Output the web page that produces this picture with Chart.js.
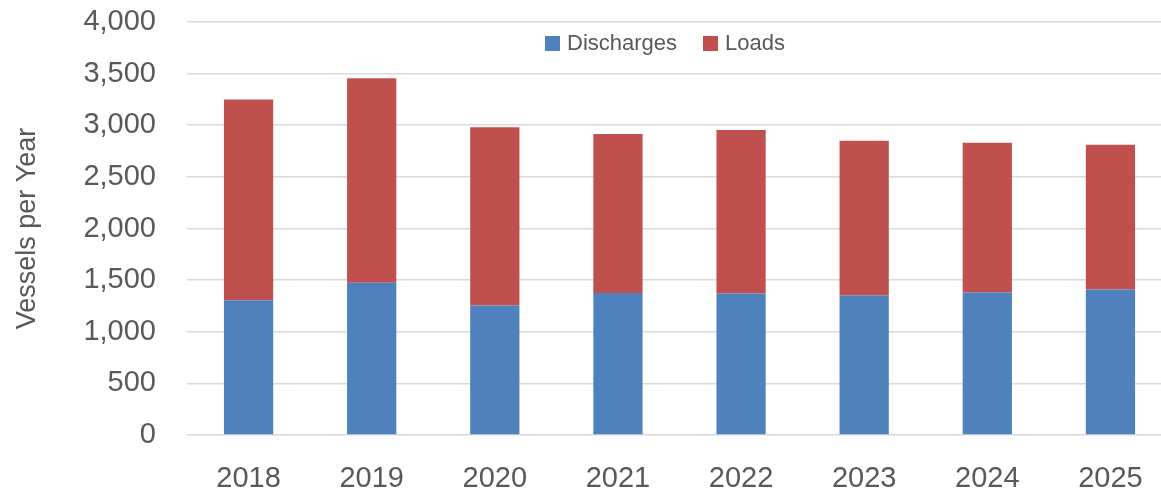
<!DOCTYPE html>
<html>
<head>
<meta charset="utf-8">
<script src="https://cdn.jsdelivr.net/npm/chart.js@4"></script>
<style>
  html, body { margin: 0; padding: 0; background: #fff; overflow: hidden; }
  #wrap { position: relative; width: 1172px; height: 489px; }
  #legend { position: absolute; top: 30px; left: 545px; display: flex; align-items: center;
            font-family: "Liberation Sans", Arial, sans-serif; font-size: 22px; color: #595959; white-space: nowrap; }
  #legend .item { display: flex; align-items: center; margin-right: 26px; }
  #legend .box { width: 15px; height: 15px; margin-right: 7px; }
</style>
</head>
<body>
<div id="wrap">
  <canvas id="c" width="1172" height="489"></canvas>
  <div id="legend"></div>
</div>
<script>
const categories = ["2018", "2019", "2020", "2021", "2022", "2023", "2024", "2025"];
const discharges = [1305, 1475, 1255, 1375, 1370, 1350, 1380, 1410];
const loads = [1945, 1980, 1725, 1540, 1585, 1500, 1450, 1400];
const seriesNames = ["Discharges", "Loads"];
const yTicks = [0, 500, 1000, 1500, 2000, 2500, 3000, 3500, 4000];
const yTitle = "Vessels per Year";

const FONT = '"Liberation Sans", Arial, sans-serif';
const TXT = '#595959';

const chart = new Chart(document.getElementById('c'), {
  type: 'bar',
  data: {
    labels: categories,
    datasets: [
      { label: seriesNames[0], data: discharges, backgroundColor: '#4F81BD', borderWidth: 0 },
      { label: seriesNames[1], data: loads, backgroundColor: '#C0504D', borderWidth: 0 }
    ]
  },
  options: {
    responsive: false,
    animation: false,
    layout: { padding: { top: 22, right: 0, left: 0, bottom: 0 } },
    plugins: { legend: { display: false }, tooltip: { enabled: false } },
    datasets: { bar: { categoryPercentage: 1.0, barPercentage: 0.4 } },
    scales: {
      x: {
        stacked: true,
        grid: { display: false },
        border: { display: false },
        ticks: { color: TXT, font: { family: FONT, size: 29 }, padding: 19, maxRotation: 0 },
        afterFit: s => { s.height = 54; s.paddingLeft = 0; s.paddingRight = 0; }
      },
      y: {
        stacked: true,
        min: 0, max: 4000,
        afterBuildTicks: s => { s.ticks = yTicks.map(v => ({ value: v })); },
        grid: { color: '#d9d9d9', lineWidth: 1.6, drawTicks: false },
        border: { display: false },
        ticks: {
          color: TXT, font: { family: FONT, size: 29 }, padding: 31,
          callback: v => Number(v).toLocaleString('en-US')
        },
        title: { display: true, text: yTitle, color: TXT, font: { family: FONT, size: 27 }, padding: { top: 11, bottom: 0 } },
        afterFit: s => { s.width = 187; s.paddingTop = 0; s.paddingBottom = 0; }
      }
    }
  }
});

const legendEl = document.getElementById('legend');
chart.data.datasets.forEach(ds => {
  const item = document.createElement('div');
  item.className = 'item';
  const box = document.createElement('span');
  box.className = 'box';
  box.style.background = ds.backgroundColor;
  const t = document.createElement('span');
  t.textContent = ds.label;
  item.appendChild(box); item.appendChild(t);
  legendEl.appendChild(item);
});
</script>
</body>
</html>
